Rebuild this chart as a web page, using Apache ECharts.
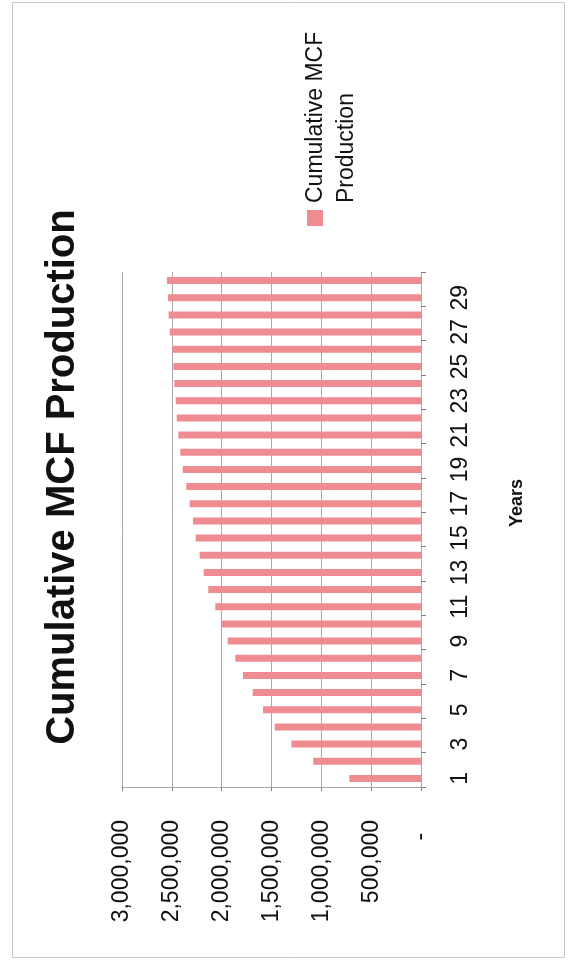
<!DOCTYPE html>
<html>
<head>
<meta charset="utf-8">
<title>Cumulative MCF Production</title>
<script src="https://cdn.jsdelivr.net/npm/echarts@6/dist/echarts.min.js"></script>
<style>
  html, body { margin: 0; padding: 0; background: #ffffff; }
  #chart { width: 568px; height: 968px; }
</style>
</head>
<body>
<div id="chart"></div>
<script>
// Production years (category axis)
const years = ['1','2','3','4','5','6','7','8','9','10','11','12','13','14','15',
               '16','17','18','19','20','21','22','23','24','25','26','27','28','29','30'];

// Cumulative gas production per year, MCF
const cumulativeMcf = [719000, 1081000, 1301000, 1468000, 1585000, 1689000, 1786000, 1863000,
                       1940000, 2003000, 2064000, 2134000, 2181000, 2221000, 2261000, 2288000,
                       2321000, 2355000, 2391000, 2415000, 2435000, 2451000, 2461000, 2475000,
                       2485000, 2495000, 2521000, 2532000, 2538000, 2548000];

// Value axis ticks and their printed labels
const valueTicks = [0, 500000, 1000000, 1500000, 2000000, 2500000, 3000000];
const valueTickLabels = ['-  ', '500,000', '1,000,000', '1,500,000', '2,000,000', '2,500,000', '3,000,000'];

const seriesName = 'Cumulative MCF Production';
const axisTitle = 'Years';
const barColor = '#ef8c92';
const gridColor = '#a9a9a9';
const fontFamily = 'Liberation Sans, Arial, sans-serif';

const chart = echarts.init(document.getElementById('chart'), null, { renderer: 'canvas' });

// Rotated text helper for the title, axis title and legend (text reads bottom-to-top)
function upText(text, x, y, size, weight, align) {
  return {
    type: 'text',
    x: x, y: y,
    rotation: Math.PI / 2,
    style: {
      text: text,
      fontFamily: fontFamily,
      fontSize: size,
      fontWeight: weight,
      fill: '#111111',
      align: align, verticalAlign: 'middle',
      textAlign: align, textVerticalAlign: 'middle'
    }
  };
}

chart.setOption({
  backgroundColor: '#ffffff',
  animation: false,
  grid: { left: 122, right: 147, top: 272, bottom: 181, containLabel: false },
  xAxis: {
    type: 'value',
    inverse: true,
    position: 'bottom',
    min: valueTicks[0],
    max: valueTicks[valueTicks.length - 1],
    interval: valueTicks[1] - valueTicks[0],
    axisLine: { show: true, lineStyle: { color: gridColor, width: 1 } },
    axisTick: { show: true, length: 4, lineStyle: { color: '#7f7f7f' } },
    splitLine: { show: true, lineStyle: { color: gridColor, width: 1 } },
    axisLabel: {
      rotate: 90,
      margin: 33,
      color: '#111111',
      fontFamily: fontFamily,
      fontSize: 23,
      formatter: function (v) {
        const i = valueTicks.indexOf(v);
        return i >= 0 ? valueTickLabels[i] : '';
      }
    }
  },
  yAxis: {
    type: 'category',
    position: 'right',
    data: years,
    boundaryGap: true,
    axisLine: { show: true, lineStyle: { color: gridColor, width: 1 } },
    axisTick: { show: true, length: 5, lineStyle: { color: '#7f7f7f' } },
    splitLine: { show: false },
    axisLabel: {
      interval: 1,
      rotate: 90,
      margin: 28,
      color: '#111111',
      fontFamily: fontFamily,
      fontSize: 23
    }
  },
  series: [{
    name: seriesName,
    type: 'bar',
    data: cumulativeMcf,
    barWidth: 7,
    itemStyle: { color: barColor }
  }],
  graphic: [
    {
      type: 'rect',
      silent: true,
      shape: { x: 12.5, y: 2.5, width: 552, height: 955 },
      style: { fill: 'none', stroke: '#c4c4c4', lineWidth: 1 }
    },
    upText(seriesName, 63, 477, 40, 'bold', 'center'),
    upText(axisTitle, 517, 503, 18, 'bold', 'center'),
    {
      type: 'rect',
      shape: { x: 307, y: 210, width: 16, height: 16 },
      style: { fill: barColor }
    },
    upText('Cumulative MCF', 316, 203, 23, 'normal', 'left'),
    upText('Production', 347, 203, 23, 'normal', 'left')
  ]
});
</script>
</body>
</html>
